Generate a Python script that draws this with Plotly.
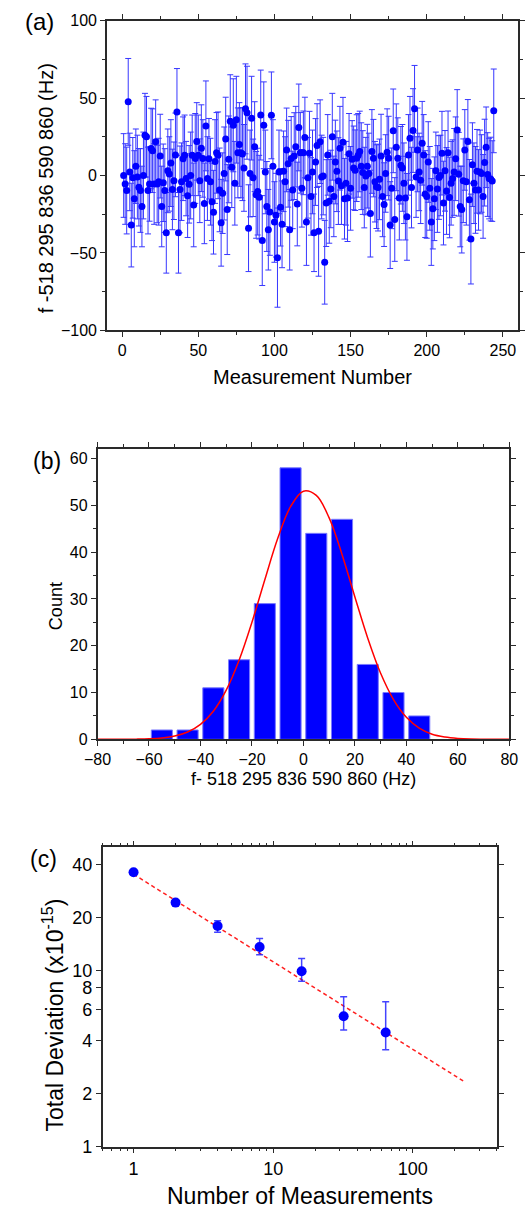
import plotly.graph_objects as go

# ---------------- data ----------------
# (a) frequency offsets (Hz) for successive measurements, with 1-sigma errors
freq = [
    0, -5.5, -9.7, 47.5, 2.3, -32, -1.5, -15, 6, -1,
    -7.6, -9.7, -20, 0, 26, 25, -9.7, -5.5, 17.4, 16,
    -5.5, 21.8, -5.5, -4, 12.5, -20, -4.7, -9.7, -37, 3,
    1, 8, -9, -3.4, 13.3, 41, -37, -9, -4, 10.8,
    13, -2, -13, -5.7, 0, 13, -19, 11, 22, 13,
    -3.4, 17.6, 11, -18, 32, -2, 10.8, -4, -17, -23.7,
    9, 14.6, 13, -9.3, -30.5, -11.4, 1.3, 23.5, -22, 10.4,
    35, 5.3, 32.4, -5, 36, 14.6, 20, 14.6, 13.8, 4.9,
    43, 40.5, -34, 1.3, 37, -1.5, 18.6, -12.5, -10.4, -14,
    39, -42, 32.4, 2.3, -20, -35, -23.5, 38.8, 6, -30,
    -25.6, -53, 2.3, -20.5, -31.5, 2.7, -4, 16.5, 7.6, -35,
    11, -9.3, 12.5, 18.6, -18.4, 31, 14.6, -8.3, 14.6, 24.5,
    -30, -1.5, 14.4, -13.5, 2.3, -37, 8.7, 19.3, -36, 21.8,
    -1, -0.4, -56, -17.8, 13.3, -16.7, -8.7, 25, -13.5, 8.7,
    2.7, -3.6, 17.6, -6.6, 21.4, -15, -5, -14.6, 14, -8.3,
    10.4, 4.9, 3.4, 11.2, 13, 15.5, 6, 1.9, -7.8, -0.4,
    6, 1.3, -24.6, 15.5, 11.2, -4, -7.2, -7.8, -2.5, 12.5,
    -13.5, -18.8, 1.3, 15, 11.2, -32, -8.3, 28.8, -28.4, 18.2,
    11.2, -14.6, 6.6, 4.9, -5, -14.6, -26.7, 13.3, 24, -7.8,
    29, 43, -1, 16.5, 2.3, -3, 20.8, 13.3, -12, -13.5,
    8.7, -8.3, -30, -21.4, -15, 3, -8.7, -1.3, 0, 14.4,
    -17.8, 3, -10, 14.6, -14.2, -5, -2, 2.3, 10.8, 29.4,
    0.8, -20, -22, -3.4, 16.5, -4, 22, -15.7, -41, 7,
    -5, -9.3, 2.7, -9.3, 2.3, 1.3, -13.5, 8.3, 18.2, 0.6,
    -2, -2.3, -3.6, 41.7,
]
freq_err = [
    27, 26, 28, 28, 25, 27, 26, 31, 24, 27,
    25, 27, 26, 28, 27, 26, 28, 24, 26, 27,
    26, 27, 25, 28, 27, 26, 25, 27, 26, 27,
    24, 28, 26, 25, 27, 28, 26, 28, 25, 27,
    26, 24, 27, 25, 28, 26, 27, 29, 25, 26,
    27, 28, 25, 26, 29, 27, 26, 28, 25, 27,
    27, 26, 28, 27, 28, 26, 30, 27, 29, 28,
    30, 26, 30, 27, 28, 29, 27, 29, 30, 28,
    29, 30, 28, 28, 27, 25, 29, 28, 28, 27,
    29, 29, 28, 27, 29, 26, 28, 28, 30, 26,
    27, 32, 27, 25, 28, 26, 29, 27, 28, 26,
    27, 25, 28, 26, 27, 28, 26, 25, 27, 26,
    28, 26, 27, 25, 27, 25, 28, 27, 29, 27,
    27, 25, 27, 28, 26, 27, 25, 28, 26, 27,
    26, 28, 27, 25, 29, 26, 27, 28, 26, 27,
    25, 27, 26, 28, 27, 26, 28, 27, 26, 25,
    27, 26, 28, 27, 25, 26, 27, 28, 26, 27,
    26, 27, 25, 28, 27, 28, 26, 27, 27, 28,
    26, 27, 25, 28, 26, 27, 28, 26, 27, 26,
    27, 28, 26, 27, 25, 28, 27, 26, 28, 27,
    26, 27, 28, 26, 27, 25, 28, 27, 26, 27,
    27, 26, 28, 27, 26, 27, 25, 28, 27, 26,
    27, 26, 28, 27, 26, 28, 27, 26, 29, 27,
    26, 28, 27, 26, 27, 25, 27, 28, 26, 27,
    26, 27, 26, 27,
]
meas_num = list(range(1, len(freq) + 1))

# (b) histogram (bin centres, counts) and fitted Gaussian
bin_centers = [-55, -45, -35, -25, -15, -5, 5, 15, 25, 35, 45]
bin_counts = [2, 2, 11, 17, 29, 58, 44, 47, 16, 10, 5]
fit_x = [-80, -75, -70, -65, -60, -55, -50, -45, -40, -35, -30, -25, -20, -15, -10, -5,
         0, 5, 10, 15, 20, 25, 30, 35, 40, 45, 50, 55, 60, 65, 70, 75, 80]
fit_y = [0.0, 0.0, 0.01, 0.04, 0.11, 0.29, 0.70, 1.56, 3.2, 6.0, 10.5, 16.9, 25.0, 34.1, 42.9, 49.7,
         53.0, 52.1, 47.3, 39.5, 30.4, 21.6, 14.1, 8.5, 4.7, 2.4, 1.1, 0.5, 0.2, 0.07, 0.03, 0.01, 0.0]

# (c) total deviation vs number of averaged measurements
n_meas = [1, 2, 4, 8, 16, 32, 64]
tot_dev = [36.1, 24.3, 17.9, 13.6, 9.9, 5.5, 4.45]
tot_dev_up = [0.6, 0.8, 1.3, 1.6, 1.8, 1.6, 2.2]
tot_dev_down = [0.6, 0.8, 1.4, 1.3, 1.2, 0.9, 0.9]
fit_line_n = [1, 232]
fit_line_dev = [35.2, 2.35]

c_tick_vals = [1, 2, 4, 6, 8, 10, 20, 40]
x_minor_vals = [0.6, 0.7, 0.8, 0.9, 2, 3, 4, 5, 6, 7, 8, 9, 20, 30, 40, 50, 60, 70, 80, 90, 200, 300, 400]

# ---------------- figure ----------------
W, H = 532, 1219
FONT = "Liberation Sans, Arial, sans-serif"
AX = "#2a2a2a"

def px_x(v):
    return v / W

def px_y(v):
    return 1 - v / H

fig = go.Figure()

fig.add_trace(go.Scatter(
    x=meas_num, y=freq, mode="markers", xaxis="x", yaxis="y",
    marker=dict(color="#0000ff", size=7),
    error_y=dict(type="data", array=freq_err, visible=True,
                 color="rgb(55,55,255)", thickness=1, width=3),
    showlegend=False,
))

fig.add_trace(go.Bar(
    x=bin_centers, y=bin_counts, xaxis="x2", yaxis="y2",
    marker=dict(color="#0000ff", line=dict(color="#7a7aff", width=1)),
    showlegend=False,
))
fig.add_trace(go.Scatter(
    x=fit_x, y=fit_y, mode="lines", xaxis="x2", yaxis="y2",
    line=dict(color="#ff0000", width=1.5, shape="spline"),
    showlegend=False,
))

fig.add_trace(go.Scatter(
    x=fit_line_n, y=fit_line_dev, mode="lines", xaxis="x3", yaxis="y3",
    line=dict(color="#ff2020", width=1.5, dash="4px,3px"),
    showlegend=False,
))
fig.add_trace(go.Scatter(
    x=n_meas, y=tot_dev, mode="markers", xaxis="x3", yaxis="y3",
    marker=dict(color="#0000ff", size=10),
    error_y=dict(type="data", symmetric=False, array=tot_dev_up, arrayminus=tot_dev_down,
                 visible=True, color="rgba(20,20,255,0.8)", thickness=1.5, width=3.5),
    showlegend=False,
))

def axis(**kw):
    base = dict(showline=True, linecolor=AX, linewidth=1.5, mirror="ticks",
                ticks="outside", ticklen=5, tickwidth=1.2, tickcolor=AX,
                showgrid=False, zeroline=False,
                tickfont=dict(family=FONT, size=16, color="#000"))
    base.update(kw)
    return base

minor_kw = dict(ticks="outside", ticklen=3, tickwidth=1, tickcolor=AX, showgrid=False)

fig.update_layout(
    width=W, height=H,
    margin=dict(l=0, r=0, t=0, b=0),
    paper_bgcolor="white", plot_bgcolor="white",
    bargap=0.18,
    font=dict(family=FONT, color="#000"),
    xaxis=axis(domain=[px_x(97.1), px_x(526.9)], anchor="y", range=[-10, 260],
               tickmode="array", tickvals=[0, 50, 100, 150, 200, 250],
               minor=dict(tickmode="array", tickvals=[25, 75, 125, 175, 225], **minor_kw)),
    yaxis=axis(domain=[px_y(327.3), px_y(12.7)], anchor="x", range=[-100, 100],
               tickmode="array", tickvals=[-100, -50, 0, 50, 100],
               minor=dict(tickmode="array", tickvals=[-75, -25, 25, 75], **minor_kw)),
    xaxis2=axis(domain=[px_x(87.3), px_x(517.7)], anchor="y2", range=[-80, 80],
                tickmode="array", tickvals=[-80, -60, -40, -20, 0, 20, 40, 60, 80],
                minor=dict(tickmode="array", tickvals=[-70, -50, -30, -10, 10, 30, 50, 70], **minor_kw)),
    yaxis2=axis(domain=[px_y(742.3), px_y(447.7)], anchor="x2", range=[0, 62],
                tickmode="array", tickvals=[0, 10, 20, 30, 40, 50, 60],
                minor=dict(tickmode="array", tickvals=[5, 15, 25, 35, 45, 55], **minor_kw)),
    xaxis3=axis(domain=[px_x(92.6), px_x(504.6)], anchor="y3", type="log",
                range=[-0.2218, 2.6021],
                tickmode="array", tickvals=[1, 10, 100], ticktext=["1", "10", "100"],
                tickfont=dict(family=FONT, size=18, color="#000"),
                minor=dict(tickmode="array", tickvals=x_minor_vals, **minor_kw)),
    yaxis3=axis(domain=[px_y(1155.7), px_y(852)], anchor="x3", type="log",
                range=[0, 1.699],
                tickmode="array", tickvals=c_tick_vals, ticktext=[str(v) for v in c_tick_vals],
                tickfont=dict(family=FONT, size=18, color="#000")),
)

def label(text, x, y, size, angle=0):
    fig.add_annotation(text=text, x=px_x(x), y=px_y(y), xref="paper", yref="paper",
                       showarrow=False, xanchor="center", yanchor="middle",
                       textangle=angle, font=dict(family=FONT, size=size, color="#000"))

label("(a)", 27, 14, 24)
label("(b)", 34.5, 460, 23)
label("(c)", 30.5, 864, 23)
label("f -518 295 836 590 860 (Hz)", 33, 183.5, 20, -90)
label("Measurement Number", 312.5, 375, 20)
label("Count", 44, 607, 18, -90)
label("f- 518 295 836 590 860 (Hz)", 302.5, 783, 18)
label("Total Deviation (x10<sup>-15</sup>)", 40.7, 1021.7, 23, -90)
label("Number of Measurements", 299, 1206, 23)

fig.write_html(
    "out.html",
    config={"displayModeBar": False},
    post_script="document.body.style.margin='0px';document.body.style.padding='0px';"
                "document.documentElement.style.overflow='hidden';",
)
